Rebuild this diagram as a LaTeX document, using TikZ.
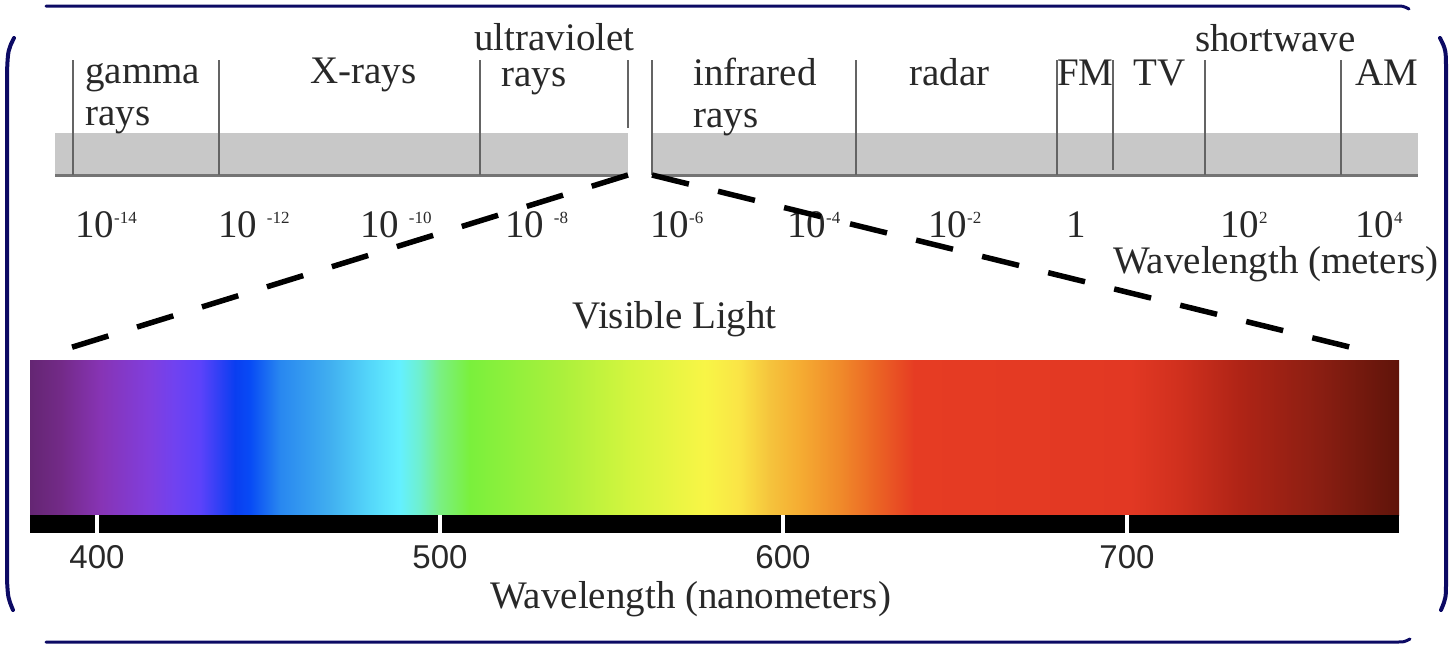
\documentclass[tikz,border=0pt]{standalone}
\usepackage{fontspec}
\setmainfont{Liberation Serif}
\newfontfamily\numfont{Liberation Sans}

\definecolor{framenavy}{RGB}{12,10,100}
\definecolor{bandgray}{RGB}{200,200,200}
\definecolor{divgray}{RGB}{100,100,100}
\definecolor{txtgray}{RGB}{40,40,40}
% spectrum colours, left to right
\definecolor{v0}{RGB}{100,38,115}
\definecolor{v1}{RGB}{115,42,135}
\definecolor{v2}{RGB}{135,52,180}
\definecolor{v3}{RGB}{128,62,222}
\definecolor{v4}{RGB}{112,66,240}
\definecolor{v5}{RGB}{92,66,250}
\definecolor{v6}{RGB}{10,62,240}
\definecolor{v7}{RGB}{8,75,245}
\definecolor{v8}{RGB}{40,135,240}
\definecolor{v9}{RGB}{65,175,240}
\definecolor{v10}{RGB}{85,215,250}
\definecolor{v11}{RGB}{100,240,255}
\definecolor{v12}{RGB}{110,240,205}
\definecolor{v13}{RGB}{122,240,130}
\definecolor{v14}{RGB}{122,240,60}
\definecolor{v15}{RGB}{170,240,60}
\definecolor{v16}{RGB}{212,245,62}
\definecolor{v17}{RGB}{248,245,70}
\definecolor{v18}{RGB}{250,228,70}
\definecolor{v19}{RGB}{245,195,60}
\definecolor{v20}{RGB}{245,172,50}
\definecolor{v21}{RGB}{240,138,42}
\definecolor{v22}{RGB}{235,100,36}
\definecolor{v23}{RGB}{230,60,35}
\definecolor{v24}{RGB}{226,56,35}
\definecolor{v25}{RGB}{208,48,30}
\definecolor{v26}{RGB}{175,36,22}
\definecolor{v27}{RGB}{138,30,18}
\definecolor{v28}{RGB}{95,20,10}

\pgfdeclarehorizontalshading{visible}{100bp}{color(0bp)=(v0); color(25bp)=(v0);
  color(26.1bp)=(v1); color(27.56bp)=(v2); color(29.38bp)=(v3); color(30.3bp)=(v4);
  color(31.21bp)=(v5); color(32.49bp)=(v6); color(33.04bp)=(v7); color(34.13bp)=(v8);
  color(35.96bp)=(v9); color(37.42bp)=(v10); color(38.51bp)=(v11); color(39.24bp)=(v12);
  color(39.97bp)=(v13); color(41.07bp)=(v14); color(44.36bp)=(v15); color(46.91bp)=(v16);
  color(49.65bp)=(v17); color(50.93bp)=(v18); color(52.03bp)=(v19); color(53.12bp)=(v20);
  color(54.58bp)=(v21); color(55.9bp)=(v22); color(57.3bp)=(v23); color(65.18bp)=(v24);
  color(67bp)=(v25); color(69.19bp)=(v26); color(72.11bp)=(v27); color(75bp)=(v28);
  color(100bp)=(v28)}

\newcommand{\pw}[1]{\raisebox{14pt}{\fontsize{17}{17}\selectfont#1}}

\begin{document}
\begin{tikzpicture}[x=1pt,y=-1pt,
  lbl/.style={anchor=base west,inner sep=0pt,text=txtgray,font=\fontsize{39}{44}\selectfont},
  nm/.style={anchor=base,inner sep=0pt,text=txtgray,font=\numfont\fontsize{33}{36}\selectfont},
  divider/.style={divgray,line width=2.7pt},
  framepart/.style={framenavy,line width=3pt,line cap=round},
  zoomline/.style={black,line width=5.5pt,dash pattern=on 38pt off 30pt}]
  \useasboundingbox (0,0) rectangle (1453,648);
  % frame
  \draw[framepart] (46,6) -- (1396,6) .. controls (1403,6) .. (1409,9);
  \draw[framepart] (46,642) -- (1398,642) .. controls (1404,642) .. (1410,639);
  \draw[framepart,line width=4pt] (14,38) .. controls (8,50) .. (7,72) -- (7,580) .. controls (8,598) .. (13,610);
  \draw[framepart,line width=4pt] (1440,38) .. controls (1446,50) .. (1446,72) -- (1446,580) .. controls (1446,598) .. (1441,610);
  % wavelength band
  \fill[bandgray] (55,133) rectangle (628,175);
  \fill[bandgray] (652,133) rectangle (1418,175);
  \draw[divgray!90,line width=3pt] (55,175) -- (628,175);
  \draw[divgray!90,line width=3pt] (652,175) -- (1418,175);
  \foreach \x in {73,219,480,652,856,1057,1205,1341}
    \draw[divider] (\x,60) -- (\x,175);
  \draw[divider] (628,60) -- (628,128);
  \draw[divider] (1113,60) -- (1113,170);
  % band names
  \node[lbl] (gamma) at (85,83) {gamma};
  \node[lbl] (gammarays) at (85,125) {rays};
  \node[lbl] (xrays) at (310,83) {X-rays};
  \node[lbl] (uv) at (474,50) {ultraviolet};
  \node[lbl] (uvrays) at (501,86) {rays};
  \node[lbl] (ir) at (693,85) {infrared};
  \node[lbl] (irrays) at (693,127) {rays};
  \node[lbl] (radar) at (909,85) {radar};
  \node[lbl] (fm) at (1057,85) {FM};
  \node[lbl] (tv) at (1133,85) {TV};
  \node[lbl] (shortwave) at (1195,51) {shortwave};
  \node[lbl] (am) at (1355,85) {AM};
  % powers of ten
  \node[lbl] (e14) at (75,237) {10\pw{-14}};
  \node[lbl] (e12) at (218,237) {10 \pw{-12}};
  \node[lbl] (e10) at (360,237) {10 \pw{-10}};
  \node[lbl] (e8) at (505,237) {10 \pw{-8}};
  \node[lbl] (e6) at (650,237) {10\pw{-6}};
  \node[lbl] (e4) at (787,237) {10\pw{-4}};
  \node[lbl] (e2) at (928,237) {10\pw{-2}};
  \node[lbl] (e0) at (1066,237) {1};
  \node[lbl] (p2) at (1220,237) {10\pw{2}};
  \node[lbl] (p4) at (1355,237) {10\pw{4}};
  \node[lbl] (meters) at (1113,273) {Wavelength (meters)};
  % zoom onto the visible part
  \coordinate (uvend) at (628,175);
  \coordinate (irstart) at (652,175);
  \coordinate (visleft) at (50,354);
  \coordinate (visright) at (1378,354);
  \draw[zoomline] (uvend) -- (visleft);
  \draw[zoomline] (irstart) -- (visright);
  \node[lbl] (vislight) at (572,328) {Visible Light};
  % spectrum
  \shade[shading=visible] (30,360) rectangle (1399,515);
  \fill[black] (30,515) rectangle (1399,533);
  \foreach \x/\n in {97/400,440/500,783/600,1127/700}{
    \draw[white,line width=4.5pt] (\x,515) -- (\x,533);
    \node[nm] (nm\n) at (\x,568) {\n};
  }
  \node[lbl] (nanometers) at (490,608) {Wavelength (nanometers)};
\end{tikzpicture}
\end{document}
